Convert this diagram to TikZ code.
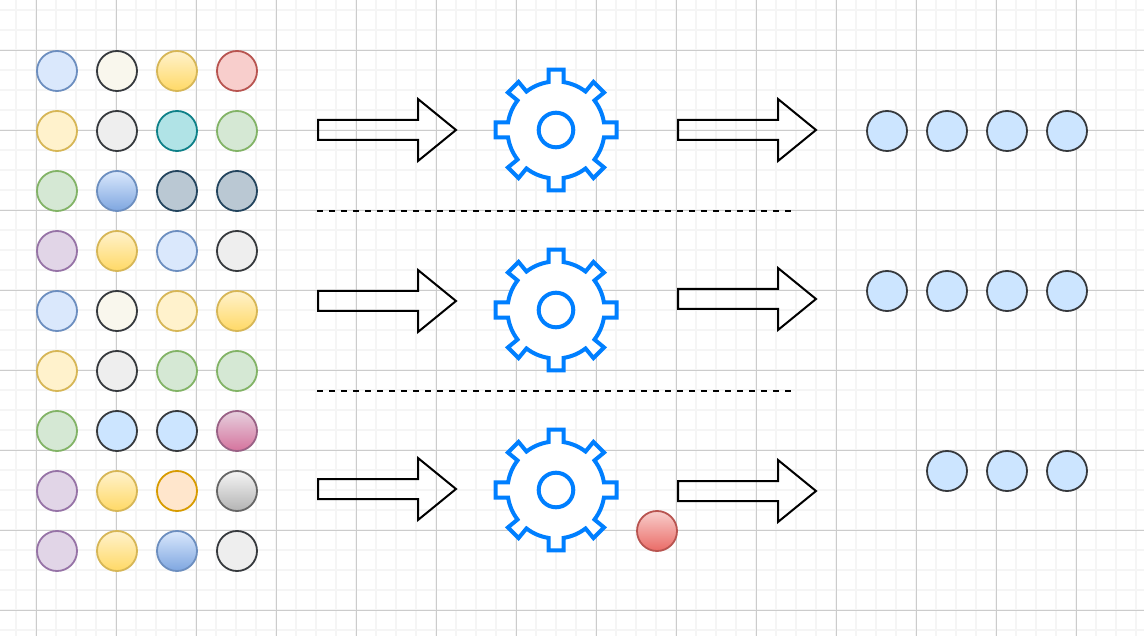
\documentclass[tikz,border=0pt]{standalone}
\definecolor{cBlueF}{HTML}{DAE8FC}\definecolor{cBlueD}{HTML}{6C8EBF}
\definecolor{cCreamF}{HTML}{F9F7ED}\definecolor{cDark}{HTML}{36393D}
\definecolor{cYelF}{HTML}{FFF2CC}\definecolor{cYelE}{HTML}{FFD966}\definecolor{cYelD}{HTML}{D6B656}
\definecolor{cRedF}{HTML}{F8CECC}\definecolor{cRedD}{HTML}{B85450}\definecolor{cRedE}{HTML}{EA6B66}
\definecolor{cGrayF}{HTML}{EEEEEE}
\definecolor{cTealF}{HTML}{B0E3E6}\definecolor{cTealD}{HTML}{0E8088}
\definecolor{cGreenF}{HTML}{D5E8D4}\definecolor{cGreenD}{HTML}{82B366}
\definecolor{cBlueE}{HTML}{7EA6E0}
\definecolor{cSlateF}{HTML}{BAC8D3}\definecolor{cSlateD}{HTML}{23445D}
\definecolor{cPurF}{HTML}{E1D5E7}\definecolor{cPurD}{HTML}{9673A6}
\definecolor{cSkyF}{HTML}{CCE5FF}
\definecolor{cPinkF}{HTML}{E6D0DE}\definecolor{cPinkE}{HTML}{D5739D}\definecolor{cPinkD}{HTML}{996185}
\definecolor{cOrF}{HTML}{FFE6CC}\definecolor{cOrD}{HTML}{D79B00}
\definecolor{cSilF}{HTML}{F5F5F5}\definecolor{cSilE}{HTML}{B3B3B3}\definecolor{cSilD}{HTML}{666666}
\definecolor{cGear}{HTML}{007FFF}
\definecolor{gridMinor}{HTML}{F5F5F5}\definecolor{gridMajor}{HTML}{CCCCCC}
\tikzset{
  dot/.style={circle,minimum size=40pt,inner sep=0pt,line width=1.8pt},
  blue/.style={dot,draw=cBlueD,fill=cBlueF},
  cream/.style={dot,draw=cDark,fill=cCreamF},
  yel/.style={dot,draw=cYelD,fill=cYelF},
  yelg/.style={dot,draw=cYelD,top color=cYelF,bottom color=cYelE},
  red/.style={dot,draw=cRedD,fill=cRedF},
  redg/.style={dot,draw=cRedD,top color=cRedF,bottom color=cRedE},
  gray/.style={dot,draw=cDark,fill=cGrayF},
  teal/.style={dot,draw=cTealD,fill=cTealF},
  green/.style={dot,draw=cGreenD,fill=cGreenF},
  blueg/.style={dot,draw=cBlueD,top color=cBlueF,bottom color=cBlueE},
  slate/.style={dot,draw=cSlateD,fill=cSlateF},
  purple/.style={dot,draw=cPurD,fill=cPurF},
  sky/.style={dot,draw=cDark,fill=cSkyF},
  pinkg/.style={dot,draw=cPinkD,top color=cPinkF,bottom color=cPinkE},
  orange/.style={dot,draw=cOrD,fill=cOrF},
  silg/.style={dot,draw=cSilD,top color=cSilF,bottom color=cSilE},
  blockarrow/.style={draw=black,line width=2pt,line join=miter},
  sep/.style={draw=black,line width=2pt,dash pattern=on 6pt off 6pt},
  gearline/.style={draw=cGear,line width=4pt,fill=white,line join=miter},
}
\newcommand{\gearat}[2]{%
  \begin{scope}[shift={(#1,#2)}]
  \draw[gearline] (-8.9:48.5pt)
    \foreach \a/\b/\n in {0/8.9/7.5,45/7.5/8.9,90/8.9/7.5,135/7.5/8.9,180/8.9/7.5,225/7.5/8.9,270/8.9/7.5,315/7.5/8.9}{
      -- (\a-\b:48.5pt) -- (\a-7.07:60.96pt) -- (\a+7.07:60.96pt) -- (\a+\b:48.5pt)
      arc[start angle=\a+\b,end angle=\a+45-\n,radius=48.5pt]
    } -- cycle;
  \draw[gearline] (0,0) circle[radius=17.3pt];
  \end{scope}}
\newcommand{\blockarr}[3]{% left x, tip x, centre y
  \draw[blockarrow] (#1,#3-10) -- (#2-38,#3-10) -- (#2-38,#3-31) -- (#2,#3)
    -- (#2-38,#3+31) -- (#2-38,#3+10) -- (#1,#3+10) -- cycle;}
\begin{document}
\begin{tikzpicture}[x=1pt,y=-1pt]
\useasboundingbox (0,0) rectangle (1144,636);
\fill[white] (0,0) rectangle (1144,636);
% grid
\foreach \x in {16,36,...,1136} \draw[gridMinor,line width=1.4pt] (\x,0) -- (\x,636);
\foreach \y in {10,30,...,630} \draw[gridMinor,line width=1.4pt] (0,\y) -- (1144,\y);
\foreach \x in {36,116,...,1076} \draw[gridMajor,line width=0.8pt] (\x,0) -- (\x,636);
\foreach \y in {50,130,...,610} \draw[gridMajor,line width=0.8pt] (0,\y) -- (1144,\y);
% dots
\foreach \sty/\cx/\cy/\nm in {
 blue/57/71/a1,cream/117/71/a2,yelg/177/71/a3,red/237/71/a4,
 yel/57/131/b1,gray/117/131/b2,teal/177/131/b3,green/237/131/b4,
 green/57/191/c1,blueg/117/191/c2,slate/177/191/c3,slate/237/191/c4,
 purple/57/251/d1,yelg/117/251/d2,blue/177/251/d3,gray/237/251/d4,
 blue/57/311/e1,cream/117/311/e2,yel/177/311/e3,yelg/237/311/e4,
 yel/57/371/f1,gray/117/371/f2,green/177/371/f3,green/237/371/f4,
 green/57/431/g1,sky/117/431/g2,sky/177/431/g3,pinkg/237/431/g4,
 purple/57/491/h1,yelg/117/491/h2,orange/177/491/h3,silg/237/491/h4,
 purple/57/551/i1,yelg/117/551/i2,blueg/177/551/i3,gray/237/551/i4,
 sky/887/131/r1,sky/947/131/r2,sky/1007/131/r3,sky/1067/131/r4,
 sky/887/291/s1,sky/947/291/s2,sky/1007/291/s3,sky/1067/291/s4,
 sky/947/471/t2,sky/1007/471/t3,sky/1067/471/t4,
 redg/657/531/w}
 \node[\sty] (\nm) at (\cx,\cy) {};
% arrows
\blockarr{318}{456}{130}
\blockarr{318}{456}{301}
\blockarr{318}{456}{489}
\blockarr{678}{816}{130}
\blockarr{678}{816}{299}
\blockarr{678}{816}{491}
% gears
\gearat{556}{130}
\gearat{556}{310}
\gearat{556}{490}
% separators
\coordinate (s1a) at (317,211); \coordinate (s1b) at (791,211);
\coordinate (s2a) at (317,391); \coordinate (s2b) at (791,391);
\draw[sep] (s1a) -- (s1b);
\draw[sep] (s2a) -- (s2b);
\end{tikzpicture}
\end{document}
